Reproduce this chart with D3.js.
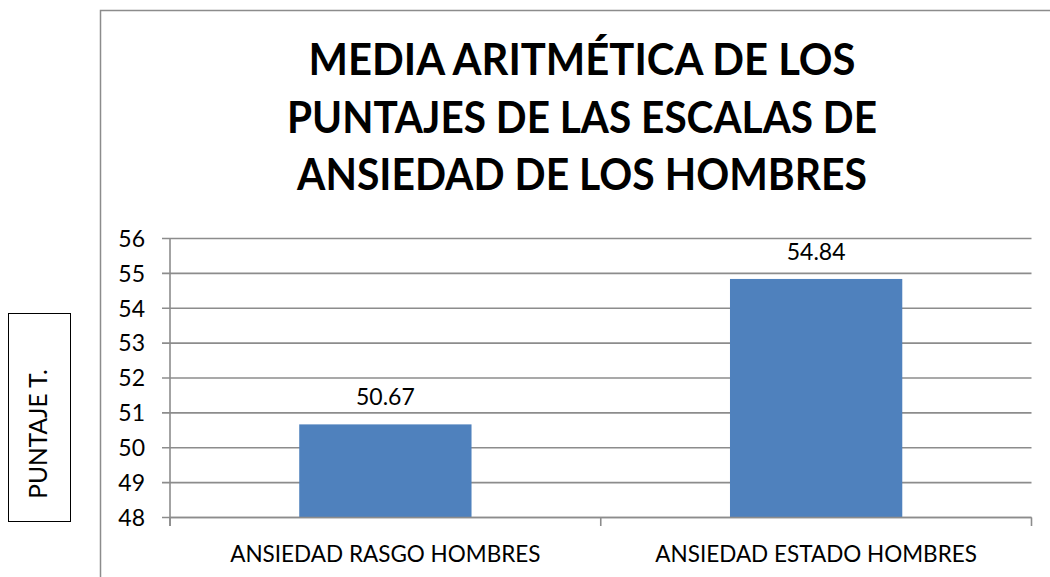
<!DOCTYPE html>
<html><head><meta charset="utf-8">
<script src="https://cdn.jsdelivr.net/npm/d3@7"></script>
<style>body{margin:0;background:#fff}svg{display:block}text{font-family:Lato,"Open Sans",sans-serif}</style>
</head><body>
<svg id="c" width="1050" height="577"></svg>
<script>
const categories = ["ANSIEDAD RASGO HOMBRES", "ANSIEDAD ESTADO HOMBRES"];
const values = [50.67, 54.84];
const yTicks = [48, 49, 50, 51, 52, 53, 54, 55, 56];
const titleLines = ["MEDIA ARITMÉTICA DE LOS", "PUNTAJES DE LAS ESCALAS DE", "ANSIEDAD DE LOS HOMBRES"];
const yLabel = "PUNTAJE T.";

const svg = d3.select("#c");
const L = 170, R = 1031.5, T = 238.5, B = 517.5;
const grid = "#8c8c8c";

// outer chart border
svg.append("path").attr("d", "M100.5,600 V10.5 H1060").attr("fill", "none").attr("stroke", "#8c8c8c").attr("stroke-width", 1.5);

const x = d3.scaleBand().domain(categories).range([L, R]).paddingInner(0.6).paddingOuter(0.3);
const y = d3.scaleLinear().domain([48, 56]).range([B, T]);

// gridlines
svg.append("g").selectAll("line").data(yTicks).join("line")
  .attr("x1", L - 8).attr("x2", R).attr("y1", d => y(d)).attr("y2", d => y(d))
  .attr("stroke", grid).attr("stroke-width", 1.6);

// y axis line
svg.append("line").attr("x1", L).attr("x2", L).attr("y1", T).attr("y2", B + 8.5).attr("stroke", grid).attr("stroke-width", 1.6);

// category ticks
const band = (R - L) / categories.length;
svg.append("g").selectAll("line").data(d3.range(categories.length + 1)).join("line")
  .attr("x1", i => L + i * band).attr("x2", i => L + i * band).attr("y1", B).attr("y2", B + 8.5)
  .attr("stroke", grid).attr("stroke-width", 1.6);

// bars
svg.append("g").selectAll("rect").data(values).join("rect")
  .attr("x", (d, i) => x(categories[i])).attr("width", x.bandwidth())
  .attr("y", d => y(d)).attr("height", d => B - y(d)).attr("fill", "#4f81bd");

// redraw baseline over bars
svg.append("line").attr("x1", L).attr("x2", R).attr("y1", B).attr("y2", B).attr("stroke", grid).attr("stroke-width", 1.6);

// y tick labels
svg.append("g").selectAll("text").data(yTicks).join("text")
  .attr("x", 145).attr("y", d => y(d)).attr("dy", "0.36em").attr("text-anchor", "end")
  .attr("font-size", 23).attr("fill", "#000").text(d => d);

// value labels
svg.append("g").selectAll("text").data(values).join("text")
  .attr("x", (d, i) => x(categories[i]) + x.bandwidth() / 2).attr("y", d => y(d) - 19)
  .attr("text-anchor", "middle").attr("font-size", 23).attr("fill", "#000").text(d => d.toFixed(2));

// category labels
svg.append("g").selectAll("text").data(categories).join("text")
  .attr("x", d => x(d) + x.bandwidth() / 2).attr("y", 562)
  .attr("text-anchor", "middle").attr("font-size", 22.5).attr("fill", "#000").text(d => d);

// title
const tw = [547, 590, 570];
svg.append("g").selectAll("text").data(titleLines).join("text")
  .attr("x", 582).attr("y", (d, i) => 75 + i * 57.5)
  .attr("text-anchor", "middle").attr("font-size", 44).attr("font-weight", "bold").attr("fill", "#000")
  .attr("textLength", (d, i) => tw[i]).attr("lengthAdjust", "spacingAndGlyphs").text(d => d);

// y label box
svg.append("rect").attr("x", 8.5).attr("y", 313.5).attr("width", 62).attr("height", 208).attr("fill", "#fff").attr("stroke", "#000").attr("stroke-width", 1);
svg.append("text").attr("transform", "translate(47,434) rotate(-90)").attr("text-anchor", "middle")
  .attr("font-size", 24.5).attr("fill", "#000").text(yLabel);
</script>
</body></html>
